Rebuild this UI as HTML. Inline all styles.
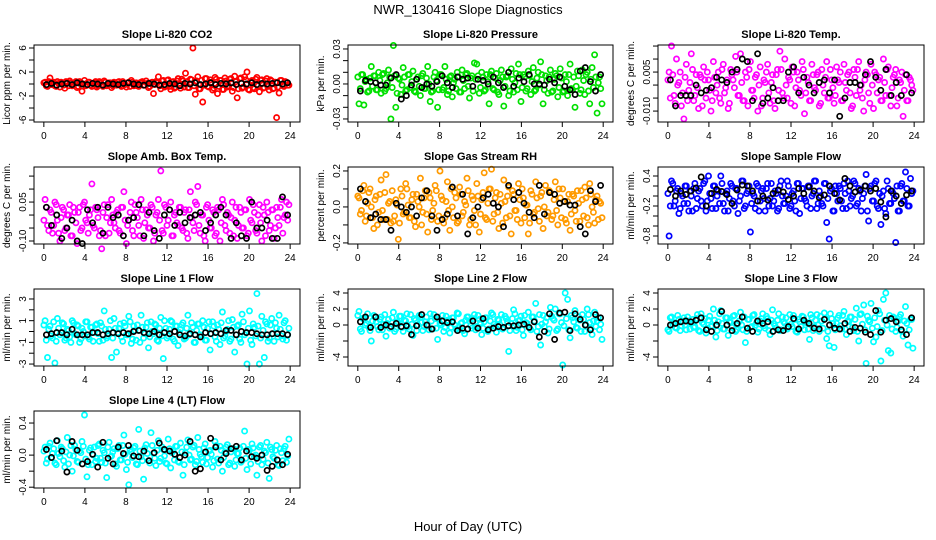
<!DOCTYPE html>
<html><head><meta charset="utf-8"><style>
html,body{margin:0;padding:0;background:#fff}
svg{display:block;font-family:"Liberation Sans",Arial,sans-serif}
</style></head><body>
<svg id="chart" width="936" height="540" viewBox="0 0 936 540" xmlns="http://www.w3.org/2000/svg">
<text x="468" y="14" font-size="13" text-anchor="middle">NWR_130416  Slope Diagnostics</text>
<text x="468" y="531" font-size="13" text-anchor="middle">Hour of Day (UTC)</text>
</svg>
<script>
const hoursC=[0.12,0.36,0.6,0.84,1.08,1.32,1.56,1.8,2.04,2.28,2.52,2.76,3,3.24,3.48,3.72,3.96,4.2,4.44,4.68,4.92,5.16,5.4,5.64,5.88,6.12,6.36,6.6,6.84,7.08,7.32,7.56,7.8,8.04,8.28,8.52,8.76,9,9.24,9.48,9.72,9.96,10.2,10.44,10.68,10.92,11.16,11.4,11.64,11.88,12.12,12.36,12.6,12.84,13.08,13.32,13.56,13.8,14.04,14.28,14.52,14.76,15,15.24,15.48,15.72,15.96,16.2,16.44,16.68,16.92,17.16,17.4,17.64,17.88,18.12,18.36,18.6,18.84,19.08,19.32,19.56,19.8,20.04,20.28,20.52,20.76,21,21.24,21.48,21.72,21.96,22.2,22.44,22.68,22.92,23.16,23.4,23.64,23.88];
const hoursD=[0,0.24,0.48,0.72,0.96,1.2,1.44,1.68,1.92,2.16,2.4,2.64,2.88,3.12,3.36,3.6,3.84,4.08,4.32,4.56,4.8,5.04,5.28,5.52,5.76,6,6.24,6.48,6.72,6.96,7.2,7.44,7.68,7.92,8.16,8.4,8.64,8.88,9.12,9.36,9.6,9.84,10.08,10.32,10.56,10.8,11.04,11.28,11.52,11.76,12,12.24,12.48,12.72,12.96,13.2,13.44,13.68,13.92,14.16,14.4,14.64,14.88,15.12,15.36,15.6,15.84,16.08,16.32,16.56,16.8,17.04,17.28,17.52,17.76,18,18.24,18.48,18.72,18.96,19.2,19.44,19.68,19.92,20.16,20.4,20.64,20.88,21.12,21.36,21.6,21.84,22.08,22.32,22.56,22.8,23.04,23.28,23.52,23.76];
const hoursB=[0.25,0.75,1.25,1.75,2.25,2.75,3.25,3.75,4.25,4.75,5.25,5.75,6.25,6.75,7.25,7.75,8.25,8.75,9.25,9.75,10.25,10.75,11.25,11.75,12.25,12.75,13.25,13.75,14.25,14.75,15.25,15.75,16.25,16.75,17.25,17.75,18.25,18.75,19.25,19.75,20.25,20.75,21.25,21.75,22.25,22.75,23.25,23.75];
const xTicks=[0,4,8,12,16,20,24];

const co2C=[0.3,-0.4,1.0,0.2,-0.3,0.4,-0.5,0.1,-0.7,0.3,0.5,-0.3,0.2,-0.6,0.4,-1.2,0.6,-0.2,0.3,-0.4,0.2,-0.5,0.4,-0.1,0.5,-0.3,0.2,-0.6,0.3,-0.2,0.4,-0.4,0.1,-0.5,0.3,0.6,-0.3,0.2,-0.4,0.3,-0.2,0.5,-0.6,0.2,-1.6,0.4,1.2,-0.8,0.6,-0.3,0.7,-0.9,0.4,-0.5,0.9,-0.7,0.5,1.8,-0.6,0.8,6.0,-1.7,1.2,-0.8,-3.0,0.9,-0.4,0.7,-1.0,1.1,-1.6,0.6,-0.9,1.0,-0.5,0.8,-1.2,1.3,-2.3,0.9,-0.7,1.2,2.0,-1.0,0.6,-0.8,1.1,-1.3,0.7,-0.6,0.9,-1.0,0.5,-0.7,-5.6,-1.5,0.6,-0.4,0.3,-0.2];
const co2D=[0.2,-0.3,0.4,-0.1,0.3,-0.4,0.1,0.3,-0.2,0.4,-0.3,0.2,-0.1,0.4,-0.4,0.2,0.0,-0.3,0.3,-0.2,0.1,0.4,-0.3,0.2,-0.4,0.3,-0.1,0.2,-0.3,0.1,0.3,-0.2,0.4,-0.1,0.2,-0.4,0.3,0.0,-0.3,0.2,0.4,-0.2,0.1,-0.4,0.3,-0.1,0.2,-0.3,0.5,-0.5,0.6,-0.4,0.3,-0.7,0.5,-0.2,0.8,-0.5,0.4,-0.6,0.7,-0.3,0.5,-0.8,0.6,-0.2,0.9,-0.5,0.3,-0.7,0.8,-0.4,0.6,-0.9,0.5,-0.3,0.9,-0.6,0.4,-0.8,1.0,-0.5,0.7,-0.9,0.4,-0.6,0.8,-0.3,0.6,-0.7,0.5,-0.4,0.7,-0.8,0.3,-0.5,0.6,-0.3,0.4,-0.2];
const co2B=[-0.1,0.1,-0.2,0,0.1,-0.1,0.2,0,-0.1,0.1,0,-0.2,0.1,0,-0.1,0.1,0.2,0,-0.1,-0.2,0.1,0,-0.2,-0.1,0.1,0,-0.3,0.1,0,0.2,-0.1,0,0.2,-0.1,0.1,0,0.2,-0.1,0.1,0,0.2,-0.1,0.1,0,0.1,0.2,0,0.2];
const presC=[-.017,.008,-.018,.004,-.006,.015,.007,-.005,.010,-.008,.009,-.004,.012,-.030,.033,-.020,.005,-.009,.014,-.006,.008,-.003,.011,-.007,.006,-.010,.009,-.004,.015,-.015,-.006,.010,-.020,.008,-.005,.015,-.009,.006,-.011,.004,.010,-.007,.012,-.004,.009,-.012,.007,.018,.017,-.008,.010,-.006,.008,-.017,.011,-.005,.009,-.009,.012,-.019,.006,-.010,.013,-.007,.009,.017,-.015,.008,-.006,.011,-.009,.014,-.005,.010,.019,-.017,.007,-.008,.012,-.006,.009,-.011,.013,-.007,.008,-.010,.017,-.005,-.020,.011,-.008,.012,-.009,.010,-.017,.014,.025,-.025,.006,-.017];
const presD=[.006,-.004,.008,.002,-.007,.005,-.002,.007,-.005,.003,.008,-.006,.001,.006,-.003,.007,-.008,.004,-.001,.006,-.005,.008,.002,-.006,.004,-.002,.007,-.004,.005,.000,-.007,.006,.003,-.005,.008,-.003,.004,-.006,.007,.001,-.004,.006,-.007,.003,.008,-.002,.005,-.006,.004,.007,-.003,.006,-.005,.002,.008,-.004,.005,-.007,.003,.006,-.002,.007,-.006,.004,.001,-.005,.008,-.003,.006,-.004,.007,.002,-.006,.005,-.001,.008,-.005,.003,.006,-.007,.004,.007,-.003,.005,-.006,.002,.008,-.004,.006,-.002,.007,-.005,.003,.008,-.006,.004,-.003,.006,.001,-.004];
const presB=[-.006,.003,.002,.001,-.001,-.001,.005,.008,-.013,-.010,-.001,.004,-.003,.000,-.002,.002,.007,.001,-.003,.006,.004,.005,-.002,.004,.003,.000,.006,.001,-.003,.010,-.002,.005,.002,.008,.000,.000,-.001,.004,.001,.006,-.002,-.005,-.009,.011,.014,.002,-.006,.008];
const tempC=[.005,.015,-.004,.010,.001,-.008,-.013,.008,-.002,.012,-.006,.004,-.009,.003,.007,-.005,.002,-.010,.009,-.003,.005,-.007,.008,-.001,-.009,.006,.002,.011,-.004,.012,-.006,.005,-.008,.009,-.002,.003,-.010,.007,-.005,.001,.008,-.007,.004,-.009,.006,.013,-.003,.010,-.005,.002,.007,-.008,.005,-.002,.009,-.011,.003,-.006,.008,-.001,.004,-.008,.006,-.003,.009,-.005,.002,-.007,.007,.001,-.006,.008,-.002,.005,-.009,.006,-.004,.009,.000,-.010,.005,-.003,.008,-.009,.004,.002,-.006,.010,-.004,.007,-.008,.003,.006,-.005,.001,-.012,.004,-.006,.002,-.002];
const tempD=[.002,-.005,.004,-.007,.000,.005,-.003,.003,-.006,.001,.006,-.004,-.001,.004,-.008,.002,.005,-.002,-.006,.003,.000,-.005,.006,-.003,.002,-.007,.004,-.001,.005,-.004,.001,-.006,.003,.006,-.002,-.005,.004,.000,-.008,.002,.005,-.003,.001,-.006,.004,-.002,.006,-.005,.000,.003,-.007,.005,-.001,.002,-.004,.006,-.003,.001,-.006,.004,-.002,.005,-.007,.000,.003,-.005,.006,-.001,-.004,.002,.005,-.006,.001,.004,-.003,-.008,.003,.006,-.002,-.005,.002,.004,-.007,.000,.005,-.003,.003,-.006,.001,.006,-.004,-.001,.004,-.008,.002,.005,-.002,-.006,.003,.000];
const tempB=[.002,-.008,-.004,-.004,-.004,.000,-.003,-.002,-.001,.003,.002,.001,.005,.006,.010,.009,-.006,.012,-.007,-.005,-.001,-.006,-.006,.005,.007,-.003,.003,.000,-.003,.001,.002,-.003,.002,-.012,-.005,.001,.001,.000,.004,.009,.003,-.002,.006,-.004,.001,-.004,.004,-.003];
const ambC=[.06,-.04,.02,-.07,.05,-.02,-.10,.03,-.06,.00,.04,-.08,.01,-.11,.03,-.05,.05,-.03,.00,.12,-.05,.02,-.08,-.13,.04,-.01,-.07,.06,-.03,.01,-.06,.03,.09,-.11,-.02,.05,-.08,.01,-.04,.06,-.09,.02,-.05,.04,-.10,.00,.06,.17,-.07,.03,-.02,.05,-.08,.01,-.04,.03,-.06,.02,-.09,.09,-.03,.05,.11,-.07,.00,-.10,.04,-.05,.02,-.08,.03,-.10,.06,-.04,.01,-.07,.05,-.02,-.09,.03,-.05,.02,-.08,.06,-.03,.01,-.07,.04,-.10,.00,.05,-.06,.02,-.09,.03,-.04,.06,-.01,.05,.04];
const ambD=[-.02,.03,-.06,.01,-.04,.04,-.07,-.01,.02,-.05,.00,-.08,.03,-.03,.01,-.06,.04,-.02,-.07,.02,-.04,.03,-.01,-.06,.01,-.08,.04,-.03,.00,-.05,.02,-.07,.03,-.02,-.04,.01,-.06,.04,-.01,-.08,.02,-.03,.00,-.05,.03,-.07,.01,-.02,-.06,.04,-.04,.02,-.08,.00,-.03,.03,-.05,.01,-.07,.02,-.01,-.06,.04,-.04,.00,-.08,.03,-.02,-.05,.01,-.07,.02,-.03,.04,-.06,.00,-.01,-.08,.03,-.04,.01,-.05,.02,-.07,-.02,.04,-.06,.00,-.03,.03,-.08,.01,-.04,.02,-.05,-.01,.03,-.07,.00,-.02];
const ambB=[.03,-.04,.00,-.09,-.05,-.02,-.10,-.11,.02,-.03,.03,-.07,.03,-.01,.00,-.08,-.02,-.01,.04,-.08,.01,-.06,-.09,.00,.02,-.04,.01,-.03,-.01,.00,.01,-.06,-.03,.00,.03,.00,-.09,-.03,-.08,-.09,.05,-.05,-.05,-.02,-.09,-.09,.07,.00];
const rhC=[.05,-.02,.12,-.05,.08,.00,-.12,.06,-.03,.15,-.07,.18,.02,-.09,-.08,.04,-.18,.10,-.04,.13,.01,-.06,.07,-.11,.03,.16,-.03,.09,-.14,.05,-.02,.12,-.08,.20,.04,-.06,.14,-.13,.00,.08,-.09,.11,-.05,.03,.16,-.10,.06,-.02,.13,-.14,.04,.19,-.07,.10,.21,-.04,.08,-.12,.02,.15,-.06,.11,-.15,.07,-.02,.13,-.09,.05,.01,-.15,.09,-.04,.14,-.01,.06,-.12,.12,-.03,.08,-.05,.14,-.10,.05,.10,-.07,.03,-.13,.07,-.02,.09,-.08,.04,.11,-.06,.13,.00,-.09,.06,.03,-.06];
const rhD=[.06,-.04,.09,-.08,.02,.10,-.06,.04,-.10,.07,-.02,.08,-.07,.03,.09,-.05,.01,-.09,.06,-.03,.10,-.06,.04,-.08,.07,.00,-.10,.05,-.04,.08,-.07,.02,.09,-.05,.06,-.09,.03,-.02,.10,-.06,.05,-.08,.07,-.03,.01,.09,-.07,.04,-.10,.06,-.04,.08,-.06,.02,.10,-.08,.05,-.03,.07,-.09,.03,.06,-.05,.09,-.02,-.07,.04,.10,-.06,.01,-.09,.07,-.03,.05,-.08,.08,.00,-.05,.09,-.07,.04,-.02,.10,-.06,.03,-.09,.07,-.04,.06,-.08,.02,.09,-.05,.05,-.10,.07,-.03,.04,-.07,.02];
const rhB=[.10,.03,-.06,-.04,-.07,-.07,-.13,.02,.00,-.03,.00,-.05,.05,.09,-.05,-.13,-.07,-.04,.11,-.05,.07,-.15,-.06,.00,.05,.07,.02,.00,-.11,.12,.04,.08,.02,-.03,-.06,.12,-.04,.08,.07,.02,.03,.01,.01,-.11,-.15,.09,.03,.12];
const sampC=[-.80,.30,-.20,.10,-.35,.05,-.15,.20,-.30,.00,.15,-.25,.10,-.10,.25,-.30,.40,-.05,.20,-.25,.10,.40,-.15,.05,-.30,.25,-.10,.15,-.35,.00,.30,-.20,.10,-.72,.05,-.25,.20,-.10,.15,-.30,.25,-.05,-.20,.10,-.30,.20,.00,-.15,.30,-.25,.05,-.10,.25,-.35,.15,-.05,-.20,.20,.00,.30,-.25,.10,-.15,.25,-.53,-.86,.15,-.30,.05,.20,-.10,.25,-.25,.10,-.05,.30,-.20,.15,-.30,.05,.43,-.50,.20,-.10,.30,-.25,-.57,.10,-.35,.15,-.15,.05,-.93,-.30,.20,-.10,.48,-.20,.35,.10];
const sampD=[.05,-.20,.25,-.10,.15,-.25,.00,.20,-.15,.10,-.30,.25,-.05,.15,-.20,.30,-.10,.05,-.25,.20,.00,-.15,.25,-.30,.10,-.05,.20,-.20,.15,-.10,.30,-.25,.05,.20,-.15,.00,.25,-.30,.10,-.05,.15,-.20,.25,-.10,.05,-.25,.30,-.15,.00,.20,-.20,.10,-.30,.25,-.05,.15,-.10,.20,-.25,.05,.30,-.15,.00,-.20,.25,-.05,.10,-.30,.20,-.10,.15,-.25,.05,.30,-.20,.00,.25,-.15,.10,-.05,.20,-.30,.15,-.10,.25,-.20,.05,.00,-.25,.30,-.15,.10,-.05,.20,-.30,.25,-.10,.15,-.20,.05];
const sampB=[.13,.00,.10,.03,.10,.16,.38,-.20,.05,.13,.09,.03,-.15,.12,.22,.20,.10,-.10,.00,-.08,.05,.12,.08,-.07,.00,.15,.05,.18,.10,-.03,.02,.20,.05,-.08,.35,.20,.08,.12,.20,.10,.15,-.12,-.42,.10,.00,-.15,.02,.10];
const l1C=[1.0,-2.4,0.5,-0.6,-2.9,1.2,-0.3,0.8,-0.8,0.2,-0.5,1.0,-0.2,0.6,-1.0,0.3,-0.4,0.9,-0.7,0.4,-0.1,0.7,-0.9,0.5,1.9,-0.6,0.2,-2.4,1.2,-1.9,0.3,-0.5,0.8,-0.3,1.4,-1.1,0.5,-0.8,0.1,1.5,-0.6,0.4,-1.5,0.9,-0.2,0.6,-0.9,1.3,-2.5,0.3,-0.4,1.0,-0.7,0.5,-1.3,0.2,0.8,-0.6,1.5,-0.2,0.4,-1.0,0.7,-0.3,1.0,-0.8,0.3,-1.7,0.9,-0.5,0.6,-1.2,1.8,-0.4,0.2,-0.9,1.1,-1.9,0.5,-0.7,1.6,-0.3,-3.0,1.9,-1.2,0.4,3.5,-3.0,1.4,-2.4,0.7,-0.6,1.2,-0.9,0.3,1.5,-0.4,0.8,-0.8,0.3];
const l1D=[0.6,-0.8,0.2,-0.4,0.9,-0.9,0.3,-0.1,0.7,-0.6,0.1,-1.0,0.8,-0.3,0.5,-0.7,0.0,0.9,-0.5,0.4,-0.9,0.6,-0.2,0.8,-0.8,0.2,-0.4,1.0,-0.6,0.3,-0.1,0.7,-0.9,0.5,-0.3,0.9,-0.7,0.1,0.6,-1.0,0.4,-0.2,0.8,-0.5,0.0,0.7,-0.8,0.3,-0.4,1.0,-0.6,0.2,0.9,-0.9,0.5,-0.1,0.6,-0.7,0.3,-0.3,0.8,-1.0,0.1,0.7,-0.5,0.4,-0.8,0.9,-0.2,0.5,-0.9,0.2,0.8,-0.6,0.0,1.0,-0.7,0.4,-0.3,0.6,-1.0,0.9,-0.1,0.3,-0.8,0.7,-0.4,0.5,-0.6,0.1,0.9,-0.9,0.6,-0.2,0.8,-0.5,0.2,-0.7,1.0,-0.3];
const l1B=[-0.3,-0.2,-0.1,-0.1,-0.3,0.2,-0.3,-0.3,-0.3,-0.1,-0.1,-0.3,-0.2,-0.1,-0.2,-0.1,-0.2,0.0,0.1,-0.1,-0.2,0.0,-0.3,-0.1,-0.2,0.0,-0.3,-0.4,-0.2,-0.3,-0.5,-0.1,-0.2,-0.1,-0.2,0.1,0.1,-0.3,0.0,-0.1,-0.1,-0.2,-0.3,-0.3,-0.2,-0.2,-0.2,-0.3];
const l2C=[1.7,-0.8,0.9,0.2,-0.3,-2.0,1.2,0.4,-0.6,1.0,0.1,-1.4,0.7,-0.2,1.6,-0.5,0.3,1.1,-0.8,0.5,-0.2,1.3,-1.3,0.6,0.0,1.0,-0.7,0.4,-0.1,1.4,-0.5,0.8,-1.8,0.2,1.2,-0.3,0.6,-1.0,0.9,0.0,1.5,-0.6,0.3,-1.1,1.0,0.5,-0.4,1.3,-0.2,0.7,-1.2,0.4,0.9,-0.5,1.5,0.1,-0.9,0.6,1.3,-0.3,0.8,-3.3,0.2,1.9,-0.7,0.5,1.1,-1.3,0.3,1.6,-0.6,1.0,2.7,-0.2,-2.5,1.2,0.4,-1.0,2.2,0.8,2.0,-0.5,1.4,-5.0,4.0,3.2,-1.6,0.9,1.8,-0.4,0.6,1.3,-0.8,2.0,0.3,-1.2,1.6,0.5,-0.6,-1.8];
const l2D=[1.2,-0.5,0.8,0.0,1.4,-0.7,0.5,1.0,-0.2,0.7,-0.6,1.3,0.2,-0.4,0.9,-0.8,0.4,1.1,-0.3,0.6,1.4,-0.5,0.1,0.8,-0.7,1.2,0.3,-0.2,1.0,-0.6,0.5,1.3,-0.4,0.7,0.0,-0.8,1.1,0.4,-0.3,0.9,-0.5,1.4,0.2,-0.7,0.6,1.0,-0.1,0.8,-0.6,1.2,0.3,-0.4,0.9,-0.8,0.5,1.3,-0.2,0.7,0.0,-0.5,1.1,0.4,-0.7,0.8,1.4,-0.3,0.6,-0.6,1.2,0.2,-0.4,1.0,0.5,-0.8,1.3,0.1,-0.2,0.9,-0.5,1.1,0.6,-0.7,1.4,0.3,-0.1,0.8,-0.6,1.2,0.4,-0.3,1.0,-0.8,0.7,0.0,1.3,-0.4,0.5,-0.2,0.9,0.1];
const l2B=[0.4,1.0,-0.3,1.0,-0.3,0.0,-0.2,0.2,-0.2,-0.1,-1.2,-0.1,1.3,0.0,-0.5,1.0,0.5,0.3,0.4,-0.7,-0.4,-0.5,0.5,-0.4,0.8,-0.6,-0.4,-0.2,-0.3,-0.1,-0.1,0.0,0.1,-0.3,0.4,-1.5,-0.8,1.4,-1.8,1.5,1.6,-0.7,1.4,0.7,0.0,-0.6,1.3,0.9];
const l3C=[-0.8,1.0,0.3,-0.4,0.7,-0.1,0.9,-0.6,0.5,0.2,-0.3,0.8,-0.7,1.4,0.1,-1.0,0.6,-0.2,2.0,-1.5,0.4,1.8,-0.5,0.9,-1.3,0.3,1.1,-0.8,0.2,1.6,-0.6,-2.2,0.7,-0.3,1.2,0.0,-0.9,0.5,1.4,-0.4,0.8,-1.2,1.9,-0.1,0.6,-0.7,1.0,0.2,-0.5,1.3,-0.2,0.7,-0.9,0.4,1.1,-0.6,0.3,-1.8,0.9,-0.2,1.3,-0.8,0.5,1.5,-1.7,-2.6,0.8,-2.8,0.2,1.2,-0.5,1.7,-1.2,0.4,1.0,-0.7,2.1,-2.0,1.4,2.5,-4.8,0.6,2.7,-2.1,-1.5,1.8,-4.5,3.2,4.0,-3.2,-3.5,1.0,-0.8,0.5,1.3,-1.4,2.3,-2.5,0.7,-2.9];
const l3D=[-0.6,0.9,0.1,-0.3,1.2,-0.7,0.5,0.0,1.0,-0.5,0.7,-0.2,1.3,-0.8,0.3,0.8,-0.4,1.1,-0.1,0.6,-0.7,1.4,0.2,-0.5,0.9,0.4,-0.3,1.2,-0.6,0.5,0.0,1.0,-0.8,0.7,-0.2,1.3,0.3,-0.5,0.8,-0.1,1.1,-0.7,0.6,0.2,-0.4,1.4,-0.6,0.4,0.9,-0.3,0.1,1.2,-0.8,0.7,-0.2,1.0,0.3,-0.5,1.3,-0.7,0.6,0.0,1.1,-0.4,0.8,-0.8,1.4,0.2,-0.6,0.9,-0.1,1.2,-0.5,0.5,1.0,-0.3,0.7,-0.8,1.3,0.1,-0.6,1.1,0.4,-0.4,0.9,-0.2,1.4,-0.7,0.6,0.0,1.2,-0.5,0.8,-0.3,1.0,-0.8,0.5,0.2,-0.6,0.7];
const l3B=[0.0,0.2,0.4,0.5,0.4,0.6,0.9,-0.6,-0.8,0.0,1.7,0.0,-0.7,0.2,1.0,-0.4,-0.8,0.5,0.2,0.4,-0.8,-0.6,-0.7,-0.2,0.8,-0.5,0.6,0.2,-0.4,-0.5,0.7,0.0,-0.4,-0.5,0.2,-0.8,-0.3,-0.4,-0.9,-1.2,1.8,-0.9,0.6,0.8,0.4,-0.6,-1.2,0.9];
const l4C=[0.10,-0.05,0.15,0.02,-0.10,0.18,-0.02,0.08,-0.15,0.22,0.00,-0.20,0.12,-0.08,0.05,0.17,0.50,-0.27,0.06,-0.12,0.10,-0.04,0.14,-0.09,0.03,-0.28,0.16,-0.01,0.08,-0.14,0.12,-0.06,0.25,-0.18,-0.37,0.04,0.09,-0.11,0.32,-0.02,-0.30,0.13,-0.07,0.28,0.02,-0.13,0.18,-0.04,0.07,-0.10,0.20,-0.16,0.05,0.11,-0.08,0.15,-0.25,0.03,0.19,-0.06,0.10,-0.12,0.22,0.01,-0.09,0.14,-0.03,0.06,-0.15,0.17,-0.05,0.11,-0.20,0.04,0.13,-0.10,0.08,-0.14,0.02,0.09,-0.07,0.30,-0.18,0.06,0.14,-0.02,-0.25,0.10,-0.12,0.05,0.16,-0.29,0.07,-0.04,0.12,-0.13,0.03,0.08,-0.09,0.20];
const l4D=[0.05,-0.10,0.11,-0.03,0.08,-0.12,0.02,0.10,-0.07,0.04,-0.11,0.12,-0.01,0.07,-0.09,0.03,0.11,-0.05,-0.12,0.09,0.00,-0.08,0.12,-0.04,0.06,-0.10,0.10,-0.02,0.04,-0.11,0.08,-0.06,0.12,0.01,-0.09,0.07,-0.03,0.11,-0.12,0.05,-0.07,0.09,0.02,-0.10,0.12,-0.04,0.06,-0.08,0.10,-0.01,-0.11,0.08,0.03,-0.06,0.11,-0.09,0.04,-0.12,0.10,0.00,-0.05,0.12,-0.08,0.07,-0.02,0.09,-0.11,0.05,0.01,-0.07,0.12,-0.10,0.06,-0.03,0.10,-0.12,0.04,0.08,-0.06,0.02,-0.09,0.11,-0.04,0.07,-0.11,0.09,0.00,-0.08,0.12,-0.05,0.03,-0.10,0.10,-0.02,0.06,-0.12,0.08,-0.07,0.11,-0.01];
const l4B=[0.07,-0.03,0.18,0.05,-0.21,0.17,0.06,-0.11,-0.08,0.01,-0.15,0.16,-0.04,-0.11,0.10,0.02,0.12,-0.01,-0.02,0.05,-0.07,0.03,0.15,0.07,0.05,0.01,-0.03,0.00,0.17,-0.20,-0.17,0.04,0.21,0.10,-0.06,0.02,0.08,0.11,-0.06,0.05,-0.02,-0.04,0.00,-0.19,-0.14,-0.06,-0.12,0.01];

const panels=[
 {key:'co2',title:'Slope Li-820 CO2',ylab:'Licor ppm per min.',col:0,row:0,ylim:[-6.33,6.5],ticks:[-6,-4,-2,0,2,4,6],labels:{'6':'6','2':'2','-2':'-2','-6':'-6'},c:co2C,d:co2D,b:co2B,color:'#ff0000'},
 {key:'pressure',title:'Slope Li-820 Pressure',ylab:'kPa per min.',col:1,row:0,ylim:[-0.0326,0.0334],ticks:[-0.03,-0.02,-0.01,0,0.01,0.02,0.03],labels:{'0.03':'0.03','0':'0.00','-0.03':'-0.03'},c:presC,d:presD,b:presB,color:'#00e000'},
 {key:'li820-temp',title:'Slope Li-820 Temp.',ylab:'degrees C per min.',col:2,row:0,ylim:[-0.0142,0.0154],ticks:[-0.01,-0.005,0,0.005,0.01,0.015],labels:{'0.005':'0.005','-0.01':'-0.010'},c:tempC,d:tempD,b:tempB,color:'#ff00ff'},
 {key:'amb-box-temp',title:'Slope Amb. Box Temp.',ylab:'degrees C per min.',col:0,row:1,ylim:[-0.1115,0.185],ticks:[-0.1,-0.05,0,0.05,0.1,0.15],labels:{'0.05':'0.05','-0.1':'-0.10'},c:ambC,d:ambD,b:ambB,color:'#ff00ff'},
 {key:'gas-stream-rh',title:'Slope Gas Stream RH',ylab:'percent per min.',col:1,row:1,ylim:[-0.206,0.222],ticks:[-0.2,-0.1,0,0.1,0.2],labels:{'0.2':'0.2','0':'0.0','-0.2':'-0.2'},c:rhC,d:rhD,b:rhB,color:'#ff9a00'},
 {key:'sample-flow',title:'Slope Sample Flow',ylab:'ml/min per min.',col:2,row:1,ylim:[-0.96,0.58],ticks:[-0.8,-0.6,-0.4,-0.2,0,0.2,0.4],labels:{'0.4':'0.4','-0.2':'-0.2','-0.8':'-0.8'},c:sampC,d:sampD,b:sampB,color:'#0000ff'},
 {key:'line1-flow',title:'Slope Line 1 Flow',ylab:'ml/min per min.',col:0,row:2,ylim:[-3.18,3.92],ticks:[-3,-2,-1,0,1,2,3],labels:{'3':'3','1':'1','-1':'-1','-3':'-3'},c:l1C,d:l1D,b:l1B,color:'#00ffff'},
 {key:'line2-flow',title:'Slope Line 2 Flow',ylab:'ml/min per min.',col:1,row:2,ylim:[-5.125,4.5],ticks:[-4,-2,0,2,4],labels:{'4':'4','2':'2','0':'0','-4':'-4'},c:l2C,d:l2D,b:l2B,color:'#00ffff'},
 {key:'line3-flow',title:'Slope Line 3 Flow',ylab:'ml/min per min.',col:2,row:2,ylim:[-5.125,4.5],ticks:[-4,-2,0,2,4],labels:{'4':'4','2':'2','0':'0','-4':'-4'},c:l3C,d:l3D,b:l3B,color:'#00ffff'},
 {key:'line4-flow',title:'Slope Line 4 (LT) Flow',ylab:'ml/min per min.',col:0,row:3,ylim:[-0.41,0.55],ticks:[-0.4,-0.2,0,0.2,0.4],labels:{'0.4':'0.4','0':'0.0','-0.4':'-0.4'},c:l4C,d:l4D,b:l4B,color:'#00ffff'}
];
const colL=[34,348,658], colR=[300,613,924], rowT=[45,167,289,411], boxH=77;
const NS='http://www.w3.org/2000/svg';
const svg=document.getElementById('chart');
function mk(tag,attrs,parent){const e=document.createElementNS(NS,tag);for(const k in attrs)e.setAttribute(k,attrs[k]);(parent||svg).appendChild(e);return e;}

panels.forEach(p=>{
  const L=colL[p.col],R=colR[p.col],T=rowT[p.row],B=T+boxH;
  const xs=h=>L+(h+0.96)/25.92*(R-L);
  const ys=v=>B-(v-p.ylim[0])/(p.ylim[1]-p.ylim[0])*boxH;
  const g=mk('g',{});
  
  
  const t=mk('text',{x:(L+R)/2,y:T-7,'font-size':11,'font-weight':'bold','text-anchor':'middle'},g);
  t.textContent=p.title;
  
  
  const yl=mk('text',{x:0,y:0,'font-size':10,'text-anchor':'middle',transform:`translate(${L-24},${(T+B)/2}) rotate(-90)`},g);
  yl.textContent=p.ylab;
  
  
  const pc=mk('g',{fill:'none',stroke:p.color,'stroke-width':1.7},g);
  
  
  p.d.forEach((v,i)=>{
    const c=mk('circle',{cx:xs(hoursD[i]).toFixed(1),cy:ys(v).toFixed(1),r:2.6},pc);
    
    
  });
  p.c.forEach((v,i)=>{
    const c=mk('circle',{cx:xs(hoursC[i]).toFixed(1),cy:ys(v).toFixed(1),r:2.6},pc);
    
    
  });
  const pb=mk('g',{fill:'none',stroke:'#000','stroke-width':1.7},g);
  
  
  p.b.forEach((v,i)=>{
    const c=mk('circle',{cx:xs(hoursB[i]).toFixed(1),cy:ys(v).toFixed(1),r:2.6},pb);
    
    
  });
  const bx=mk('rect',{x:L,y:T,width:R-L,height:boxH,fill:'none',stroke:'#000','stroke-width':1},g);
  
  
  const xa=mk('g',{stroke:'#000','stroke-width':1},g);
  
  
  mk('line',{x1:xs(xTicks[0]),x2:xs(xTicks[xTicks.length-1]),y1:B,y2:B},xa);
  xTicks.forEach(tv=>{
    mk('line',{x1:xs(tv),x2:xs(tv),y1:B,y2:B+5},xa);
    const tl=mk('text',{x:xs(tv),y:B+17,'font-size':10,'text-anchor':'middle',stroke:'none'},xa);
    tl.textContent=tv;
    
    
  });
  const ya=mk('g',{stroke:'#000','stroke-width':1},g);
  
  
  mk('line',{x1:L,x2:L,y1:ys(p.ticks[0]),y2:ys(p.ticks[p.ticks.length-1])},ya);
  p.ticks.forEach(tv=>{
    mk('line',{x1:L-5,x2:L,y1:ys(tv),y2:ys(tv)},ya);
    const lab=p.labels[String(tv)];
    if(lab!==undefined){
      const tl=mk('text',{x:0,y:0,'font-size':10,'text-anchor':'middle',stroke:'none',transform:`translate(${L-8},${ys(tv)}) rotate(-90)`},ya);
      tl.textContent=lab;
      
      
    }
  });
});
</script>
</body></html>
